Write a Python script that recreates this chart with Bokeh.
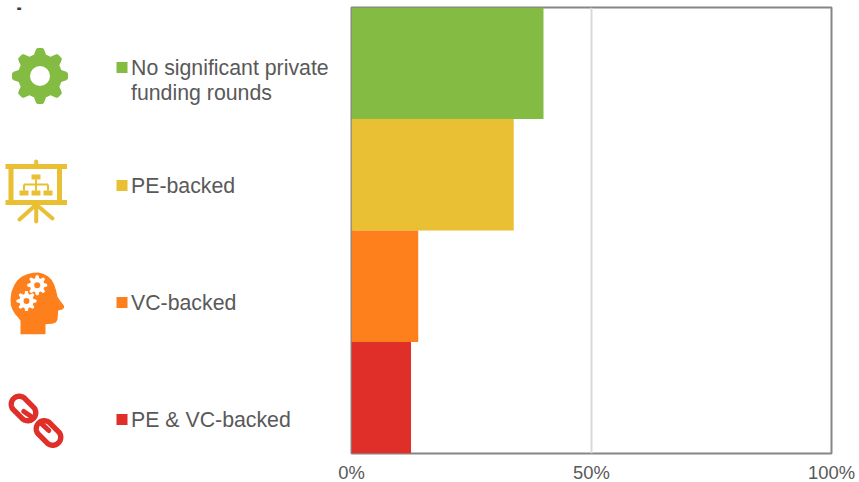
import numpy as np
from bokeh.embed import file_html
from bokeh.layouts import row
from bokeh.models import FixedTicker, Label, PrintfTickFormatter, Range1d
from bokeh.plotting import figure
from bokeh.resources import INLINE
from bokeh.core.properties import value

title = "Capital Source"
categories = ["No significant private\nfunding rounds", "PE-backed", "VC-backed", "PE & VC-backed"]
shares = [40.0, 33.8, 13.9, 12.4]
colors = ["#84BC43", "#E9BF33", "#FE801D", "#E02F29"]
tick_values = [0, 50, 100]

FONT = "Liberation Sans"
TEXT = "#595959"
H = 485

# Row aligns the frames of both figures, so the left one shares the same top and bottom borders.
left = figure(width=335, height=H, x_range=Range1d(0, 335), y_range=Range1d(453, 7),
              output_backend="svg", toolbar_location=None,
              min_border_left=0, min_border_right=0, min_border_top=7, min_border_bottom=H - 453,
              outline_line_color=None)
left.axis.visible = False
left.grid.visible = False


def gear(cx, cy, r, amp, teeth=8, phase=0.0):
    t = np.linspace(0, 2 * np.pi, 241)
    rr = r + amp * np.clip(1.6 * np.cos(teeth * (t - phase)), -1, 1)
    return cx + rr * np.sin(t), cy - rr * np.cos(t)


# title, clipped by the top of the picture as in the reference
left.add_layout(Label(x=-21, y=-6.5, text=title, text_font=FONT, text_font_size="28px",
                      text_font_style="bold", text_color="#404040", text_baseline="alphabetic"))

# legend squares and labels
for cy, lab, col in zip([67, 185, 302, 419], categories, colors):
    left.rect([121.5], [cy], width=11, height=11, fill_color=col, line_color=None)
    parts = lab.split("\n")
    for i, part in enumerate(parts):
        left.text([130.5], [cy + 25 * i], text=[part], text_font=value(FONT), text_font_size="21.3px",
                  text_color=TEXT, text_baseline="middle")

# gear icon
gx, gy = gear(39.5, 75.5, 25, 3)
left.patch(gx, gy, fill_color=colors[0], line_color=None)
left.circle([39.5], [75.5], radius=10, fill_color="white", line_color=None)

# presentation board icon
c = colors[1]
left.quad(left=[5, 5, 8, 56.5], right=[66.5, 66.5, 13, 61.5],
          top=[163.5, 199.5, 166, 166], bottom=[168.5, 204.5, 202, 202], fill_color=c, line_color=None)
left.segment([35.7, 35.7, 35.7, 35.7], [161, 204, 204, 204], [35.7, 19, 35.7, 52], [165, 219, 221, 218],
             line_color=c, line_width=4, line_cap="round")
left.quad(left=[31, 19, 31, 43], right=[40, 28, 40, 52], top=[174, 190, 190, 190], bottom=[179, 195, 195, 195],
          fill_color=c, line_color=None)
left.segment([35.5, 23.5, 23.5, 35.5, 47.5], [179, 184, 184, 184, 184], [35.5, 47.5, 23.5, 35.5, 47.5], [190, 184, 190, 190, 190],
             line_color=c, line_width=2)

# head icon
hx = [60, 60, 53, 44, 36, 31, 30, 33, 41, 50, 63, 80, 97, 113, 128, 142, 153, 161, 167, 171, 180, 190, 191, 185, 173, 172, 171, 166, 155, 135, 135]
hy = [215, 175, 165, 155, 142, 128, 110, 88, 68, 54, 43, 35, 31, 30, 34, 41, 52, 66, 85, 103, 116, 129, 136, 141, 144, 160, 172, 180, 184, 185, 215]
left.patch(np.array(hx) / 3, np.array(hy) / 3 + 262, fill_color=colors[2], line_color=None)
for cx, cy, r, hole in [(36.7, 284.7, 8.6, 3), (26, 300.5, 8.6, 3)]:
    sx, sy = gear(cx, cy, r, 1.4)
    left.patch(sx, sy, fill_color="white", line_color=None)
    left.circle([cx], [cy], radius=hole, fill_color=colors[2], line_color=None)


# chain icon
def link(cx, cy, r=8, half=6):
    a = np.linspace(-np.pi / 2, np.pi / 2, 30)
    px = np.r_[half + r * np.cos(a), -half - r * np.cos(a), half + r * np.cos(a[0])]
    py = np.r_[r * np.sin(a), r * np.sin(a[::-1]), r * np.sin(a[0])]
    k = np.sqrt(0.5)
    return cx + k * (px - py), cy + k * (px + py)


for cx, cy in [(23, 408), (48, 432.5)]:
    lx, ly = link(cx, cy)
    left.line(lx, ly, line_color=colors[3], line_width=5.4, line_join="round")
left.segment([23.3, 39.3], [411, 421.7], [31.7, 48.3], [416.7, 430],
             line_color=colors[3], line_width=5, line_cap="round")

right = figure(width=524, height=H, x_range=Range1d(0, 100), y_range=Range1d(4, 0),
               output_backend="svg", toolbar_location=None,
               min_border_left=16, min_border_right=28, min_border_top=7, min_border_bottom=H - 453,
               outline_line_color="#868686", outline_line_width=2)
ys = [i + 0.5 for i in range(len(shares))]
right.hbar(y=ys, right=shares, left=0, height=1, fill_color=colors, line_color=None)
right.yaxis.visible = False
right.ygrid.visible = False
right.xgrid.ticker = FixedTicker(ticks=tick_values)
right.xgrid.grid_line_color = "#D9D9D9"
right.xgrid.grid_line_width = 2
right.xaxis.ticker = FixedTicker(ticks=tick_values)
right.xaxis.formatter = PrintfTickFormatter(format="%d%%")
right.xaxis.axis_line_color = None
right.xaxis.major_tick_line_color = None
right.xaxis.minor_tick_line_color = None
right.xaxis.major_tick_in = 0
right.xaxis.major_tick_out = 0
right.xaxis.minor_tick_in = 0
right.xaxis.minor_tick_out = 0
right.xaxis.major_label_text_font = FONT
right.xaxis.major_label_text_font_size = "18.4px"
right.xaxis.major_label_text_color = TEXT
right.xaxis.major_label_standoff = 8

layout = row(left, right, spacing=0)
open("out.html", "w").write(file_html(layout, INLINE))
